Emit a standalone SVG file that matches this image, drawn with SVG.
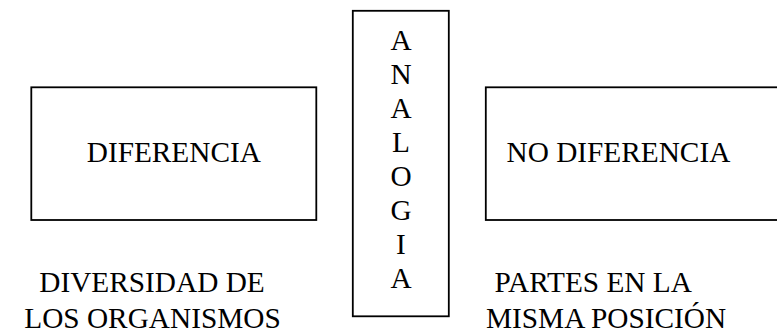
<svg xmlns="http://www.w3.org/2000/svg" width="777" height="332" viewBox="0 0 777 332">
<style>
.box{fill:#fff;stroke:#000;stroke-width:1.8}
.t{font-family:"Liberation Serif","Times New Roman",serif;font-size:29.3px;fill:#000}
.m{text-anchor:middle}
</style>
<rect width="777" height="332" fill="#fff"/>
<g id="diferencia">
<rect class="box" x="31.3" y="87.3" width="285" height="132.7"/>
<text class="t m" x="173.8" y="162.3">DIFERENCIA</text>
</g>
<g id="analogia">
<rect class="box" x="352.8" y="10.8" width="96" height="305.5"/>
<text class="t m" x="401" y="50">A</text>
<text class="t m" x="401" y="84">N</text>
<text class="t m" x="401" y="118">A</text>
<text class="t m" x="401" y="152">L</text>
<text class="t m" x="401" y="186">O</text>
<text class="t m" x="401" y="220">G</text>
<text class="t m" x="401" y="254">I</text>
<text class="t m" x="401" y="288">A</text>
</g>
<g id="no-diferencia">
<rect class="box" x="485.8" y="87.3" width="300" height="132.7"/>
<text class="t" x="506.5" y="162.3">NO DIFERENCIA</text>
</g>
<g id="diversidad">
<text class="t m" x="152" y="292.3">DIVERSIDAD DE</text>
<text class="t m" x="152.5" y="327.7">LOS ORGANISMOS</text>
</g>
<g id="partes">
<text class="t" x="494.5" y="292.3">PARTES EN LA</text>
<text class="t" x="486" y="327.7">MISMA POSICIÓN</text>
</g>
<g id="connectors"></g>
</svg>
